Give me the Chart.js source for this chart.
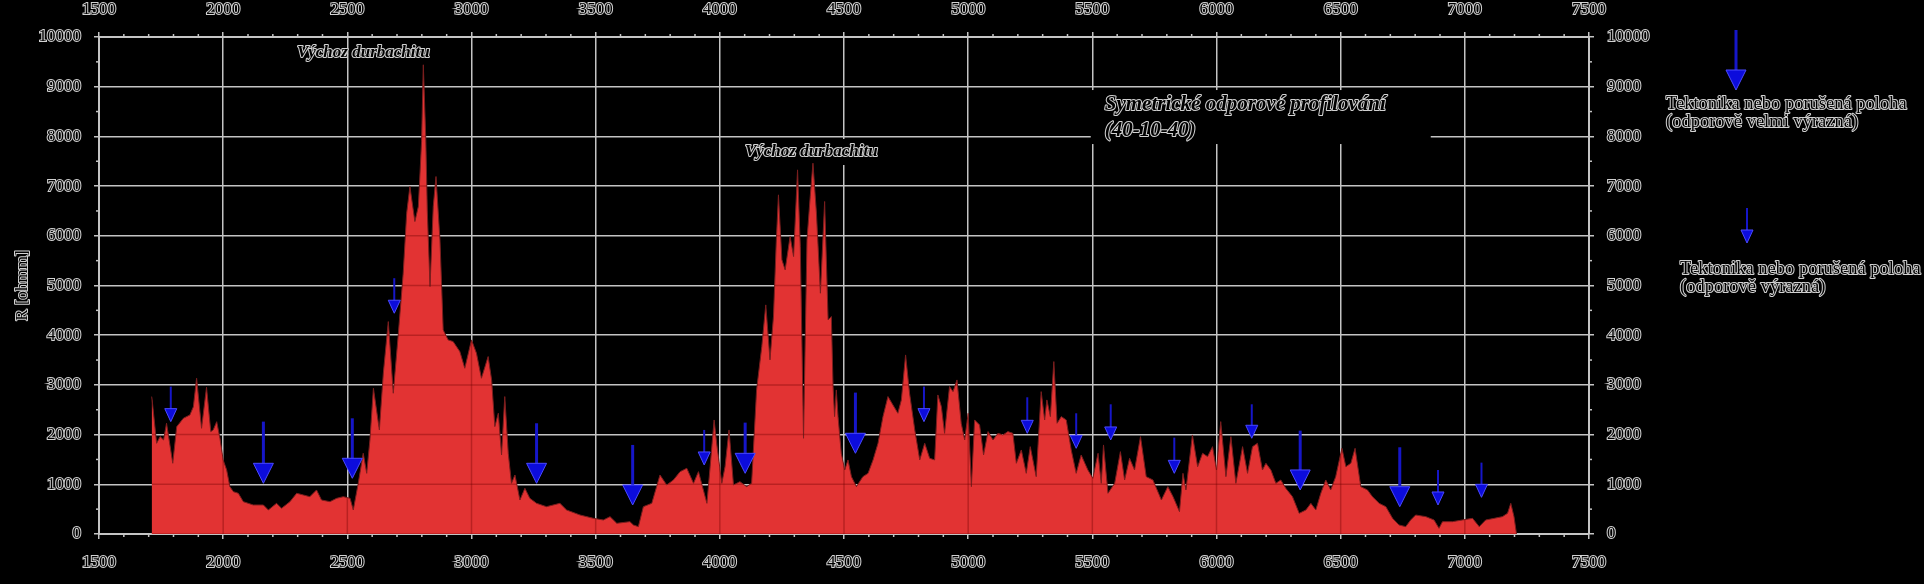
<!DOCTYPE html>
<html><head><meta charset="utf-8">
<script src="https://cdn.jsdelivr.net/npm/chart.js@4/dist/chart.umd.min.js"></script>
<style>html,body{margin:0;padding:0;background:#000;overflow:hidden}</style>
</head><body>
<canvas id="c" width="1924" height="584"></canvas>
<script>
// ---- data ----
const positions = [1712,1714,1732,1746,1760,1772,1797,1813,1840,1866,1880,1893,1913,1933,1950,1960,1974,1987,2000,2014,2027,2041,2061,2081,2121,2162,2182,2215,2235,2269,2296,2323,2349,2376,2396,2430,2457,2484,2511,2524,2544,2564,2578,2591,2605,2629,2645,2665,2685,2705,2725,2739,2752,2772,2786,2799,2806,2816,2822,2833,2846,2857,2873,2886,2906,2926,2953,2973,3000,3020,3040,3067,3081,3094,3108,3121,3134,3148,3161,3175,3195,3215,3235,3262,3302,3356,3383,3437,3491,3531,3558,3585,3638,3652,3672,3692,3726,3759,3786,3813,3840,3867,3894,3914,3948,3961,3977,3988,4008,4021,4037,4055,4081,4108,4128,4148,4169,4185,4202,4216,4227,4236,4250,4263,4283,4297,4313,4324,4337,4351,4364,4375,4389,4405,4422,4436,4449,4456,4462,4469,4476,4489,4503,4516,4530,4550,4576,4597,4617,4637,4657,4677,4697,4717,4731,4748,4764,4785,4805,4825,4845,4865,4878,4892,4905,4925,4939,4955,4972,4986,5000,5013,5026,5046,5062,5080,5100,5120,5140,5160,5180,5194,5214,5234,5250,5274,5294,5308,5317,5331,5345,5358,5375,5395,5415,5435,5455,5482,5502,5523,5536,5545,5563,5590,5613,5630,5650,5670,5694,5717,5744,5778,5804,5825,5851,5865,5877,5903,5924,5944,5964,5984,6000,6017,6038,6058,6078,6105,6125,6145,6165,6185,6199,6219,6239,6259,6279,6306,6333,6360,6380,6400,6420,6440,6460,6480,6505,6521,6541,6558,6581,6608,6628,6655,6682,6709,6735,6762,6782,6802,6843,6876,6896,6910,6950,6990,7031,7058,7084,7118,7151,7172,7185,7198,7208];
const resistivity = [2765,2700,1825,1960,1892,2228,1423,2160,2330,2395,2560,3134,2127,2952,2060,2094,2260,1926,1490,1288,953,852,819,651,584,584,483,617,517,651,819,785,751,886,684,651,718,751,718,483,1020,1624,1221,1892,2932,2094,3234,4274,2832,4006,5247,6455,6992,6287,6589,7900,9441,7931,6500,4979,6589,7193,5918,4107,3905,3872,3670,3335,3905,3637,3134,3570,3100,2161,2429,1590,2765,1624,1020,1188,684,919,718,617,550,617,483,382,315,282,349,215,248,181,148,550,617,1188,986,1087,1255,1322,1020,1255,617,1355,2295,1792,1020,1355,2094,986,1053,953,1020,2899,3771,4610,3503,4375,5851,6824,5516,5315,5986,5583,7327,5784,1926,5918,6791,7461,6455,4845,6690,4308,4375,2966,2362,2899,2362,1624,1288,1490,1154,953,1154,1221,1490,1825,2362,2765,2597,2429,2698,3603,2832,2094,1490,1825,1523,1490,2798,2563,2026,2966,2865,3100,2228,1892,2429,953,2295,2194,1590,2060,1892,2026,1993,2060,2026,1423,1691,1221,1758,1154,2865,2295,2698,2362,3469,2228,2362,2295,1691,1221,1590,1288,1121,1624,1020,1792,819,1020,1657,1087,1523,1288,1959,1154,1087,684,953,751,450,1221,886,1993,1355,1624,1557,1758,1288,2261,1154,1959,1020,1758,1221,1758,1825,1288,1423,1288,1020,1087,919,751,416,483,617,483,819,1087,886,1154,1724,1355,1423,1724,953,886,751,617,550,315,181,148,282,382,349,282,114,248,248,282,315,148,282,315,349,416,617,349,0];

const arrowX    = [1789,2162,2520,2689,3262,3649,3937,4102,4546,4822,5238,5435,5574,5830,6142,6337,6738,6892,7067];
const arrowTip  = [2261,1020,1121,4442,1020,584,1389,1221,1624,2261,2026,1724,1892,1221,1926,886,550,584,738];
const arrowTop  = [2966,2261,2328,5147,2228,1792,2094,2241,2845,2966,2751,2429,2610,1939,2610,2080,1745,1288,1436];
const arrowKind = ['S','L','L','S','L','L','S','L','L','S','S','S','S','S','S','L','L','S','S'];

const xMin = 1500, xMax = 7500, xStep = 500, xMinor = 100;
const yMin = 0, yMax = 10000, yStep = 1000, yMinor = 500;

const yTitle = 'R [ohmm]';
const peakLabel = 'Výchoz durbachitu';
const peakLabelPos = [[2297, 9678], [4101, 7686]];
const methodLines = ['Symetrické odporové profilování', '(40-10-40)'];
const methodPos = [5550, 8631, 8108];
const legendLine1 = 'Tektonika nebo porušená poloha';
const legendA2 = '(odporově velmi výrazná)';
const legendB2 = '(odporově výrazná)';

// ---- styling helpers ----
const SERIF = "'Liberation Serif','DejaVu Serif',serif";
const GRID = '#c4c4c4';
function outlined(ctx, text, x, y, font, align) {
  ctx.save();
  ctx.font = font; ctx.textAlign = align || 'left'; ctx.textBaseline = 'middle';
  ctx.lineJoin = 'round';
  ctx.lineWidth = 2; ctx.strokeStyle = '#d2d2d2'; ctx.strokeText(text, x, y);
  ctx.fillStyle = '#000'; ctx.fillText(text, x, y);
  ctx.restore();
}
function drawArrow(ctx, x, yTop, yTip, big) {
  const hw = big ? 10 : 6, hh = big ? 20 : 13, sw = big ? 3 : 2;
  ctx.save();
  ctx.strokeStyle = '#1616c8'; ctx.lineWidth = sw;
  ctx.beginPath(); ctx.moveTo(x, yTop); ctx.lineTo(x, yTip - hh + 1); ctx.stroke();
  ctx.beginPath();
  ctx.moveTo(x - hw, yTip - hh); ctx.lineTo(x + hw, yTip - hh); ctx.lineTo(x, yTip); ctx.closePath();
  ctx.fillStyle = '#0c0cdc'; ctx.fill();
  ctx.strokeStyle = '#4a4aff'; ctx.lineWidth = 1; ctx.stroke();
  ctx.restore();
}

const decor = {
  id: 'decor',
  beforeDatasetsDraw(chart) {
    const ctx = chart.ctx, xs = chart.scales.x, ys = chart.scales.y;
    // black box behind method caption
    const tx = xs.getPixelForValue(methodPos[0]);
    const t1 = ys.getPixelForValue(methodPos[1]);
    const t2 = ys.getPixelForValue(methodPos[2]);
    ctx.save(); ctx.fillStyle = '#000';
    ctx.fillRect(tx - 14, t1 - 15, 340, (t2 - t1) + 28);
    const px = xs.getPixelForValue(peakLabelPos[1][0]);
    const py = ys.getPixelForValue(peakLabelPos[1][1]);
    ctx.fillRect(px - 3, py - 13, 140, 26);
    ctx.restore();
  },
  afterDatasetsDraw(chart) {
    const ctx = chart.ctx, xs = chart.scales.x, ys = chart.scales.y, ca = chart.chartArea;
    // darker grid lines over the filled area
    const pts = chart.getDatasetMeta(0).data;
    const base = ys.getPixelForValue(0);
    ctx.save();
    ctx.beginPath();
    ctx.moveTo(pts[0].x, base);
    pts.forEach(p => ctx.lineTo(p.x, p.y));
    ctx.lineTo(pts[pts.length - 1].x, base);
    ctx.closePath(); ctx.clip();
    ctx.strokeStyle = 'rgba(110,0,0,0.35)'; ctx.lineWidth = 1.5;
    for (let v = xMin; v <= xMax; v += xStep) {
      const X = xs.getPixelForValue(v);
      ctx.beginPath(); ctx.moveTo(X, ca.top); ctx.lineTo(X, ca.bottom); ctx.stroke();
    }
    for (let v = yMin; v <= yMax; v += yStep) {
      const Y = ys.getPixelForValue(v);
      ctx.beginPath(); ctx.moveTo(ca.left, Y); ctx.lineTo(ca.right, Y); ctx.stroke();
    }
    ctx.restore();
    // arrows
    for (let i = 0; i < arrowX.length; i++) {
      drawArrow(ctx, xs.getPixelForValue(arrowX[i]), ys.getPixelForValue(arrowTop[i]),
        ys.getPixelForValue(arrowTip[i]), arrowKind[i] === 'L');
    }
  },
  afterDraw(chart) {
    const ctx = chart.ctx, xs = chart.scales.x, ys = chart.scales.y, ca = chart.chartArea;
    // minor ticks
    ctx.save(); ctx.strokeStyle = GRID; ctx.lineWidth = 1.5;
    for (let v = xMin; v <= xMax; v += xMinor) {
      if (v % xStep === 0) continue;
      const X = xs.getPixelForValue(v);
      ctx.beginPath(); ctx.moveTo(X, ca.top - 3); ctx.lineTo(X, ca.top); ctx.stroke();
      ctx.beginPath(); ctx.moveTo(X, ca.bottom); ctx.lineTo(X, ca.bottom + 3); ctx.stroke();
    }
    for (let v = yMin; v <= yMax; v += yMinor) {
      if (v % yStep === 0) continue;
      const Y = ys.getPixelForValue(v);
      ctx.beginPath(); ctx.moveTo(ca.left - 3, Y); ctx.lineTo(ca.left, Y); ctx.stroke();
      ctx.beginPath(); ctx.moveTo(ca.right, Y); ctx.lineTo(ca.right + 3, Y); ctx.stroke();
    }
    ctx.restore();
    // y axis title
    ctx.save();
    ctx.translate(23, (ca.top + ca.bottom) / 2); ctx.rotate(-Math.PI / 2);
    outlined(ctx, yTitle, 0, 0, '17px ' + SERIF, 'center');
    ctx.restore();
    // annotations
    const fBI = 'italic bold 17px ' + SERIF;
    peakLabelPos.forEach(p => outlined(ctx, peakLabel, xs.getPixelForValue(p[0]), ys.getPixelForValue(p[1]), fBI, 'left'));
    const fM = 'italic bold 21px ' + SERIF;
    const mx = xs.getPixelForValue(methodPos[0]);
    outlined(ctx, methodLines[0], mx, ys.getPixelForValue(methodPos[1]), fM, 'left');
    outlined(ctx, methodLines[1], mx, ys.getPixelForValue(methodPos[2]), fM, 'left');
    // legend
    const lx = ca.right;
    drawArrow(ctx, lx + 147, 30, 90, true);
    outlined(ctx, legendLine1, lx + 77, 104, '18.5px ' + SERIF, 'left');
    outlined(ctx, legendA2, lx + 77, 122, '18.5px ' + SERIF, 'left');
    drawArrow(ctx, lx + 158, 208, 243, false);
    outlined(ctx, legendLine1, lx + 91, 269, '18.5px ' + SERIF, 'left');
    outlined(ctx, legendB2, lx + 91, 287, '18.5px ' + SERIF, 'left');
  }
};

const tickFont = { family: SERIF, size: 17 };
const tickStyle = (pad) => ({
  color: '#000', textStrokeColor: '#d2d2d2', textStrokeWidth: 2,
  font: tickFont, padding: pad, autoSkip: false, maxRotation: 0,
  callback: v => String(v)
});
const gridStyle = (onArea) => ({ color: GRID, lineWidth: 1.5, tickLength: 5, tickColor: GRID, tickWidth: 1.5, drawOnChartArea: onArea });
const borderStyle = { color: GRID, width: 2 };

new Chart(document.getElementById('c'), {
  type: 'line',
  data: {
    datasets: [{
      data: positions.map((p, i) => ({ x: p, y: resistivity[i] })),
      xAxisID: 'x', yAxisID: 'y',
      fill: 'origin',
      backgroundColor: '#e23333',
      borderColor: '#7a1e1e',
      borderWidth: 1,
      pointRadius: 0,
      tension: 0
    }]
  },
  options: {
    responsive: false, devicePixelRatio: 1, animation: false, events: [],
    layout: { padding: 0 },
    plugins: { legend: { display: false }, tooltip: { enabled: false } },
    scales: {
      x: { type: 'linear', position: 'bottom', min: xMin, max: xMax,
        ticks: Object.assign(tickStyle(13), { stepSize: xStep }),
        grid: gridStyle(true), border: borderStyle,
        afterFit: s => { s.height = 50; } },
      x2: { type: 'linear', position: 'top', min: xMin, max: xMax,
        ticks: Object.assign(tickStyle(12), { stepSize: xStep }),
        grid: gridStyle(false), border: borderStyle,
        afterFit: s => { s.height = 37; } },
      y: { type: 'linear', position: 'left', min: yMin, max: yMax,
        ticks: Object.assign(tickStyle(13), { stepSize: yStep }),
        grid: gridStyle(true), border: borderStyle,
        afterFit: s => { s.width = 99; } },
      y2: { type: 'linear', position: 'right', min: yMin, max: yMax,
        ticks: Object.assign(tickStyle(13), { stepSize: yStep }),
        grid: gridStyle(false), border: borderStyle,
        afterFit: s => { s.width = 335; } }
    }
  },
  plugins: [decor]
});
</script>
</body></html>
